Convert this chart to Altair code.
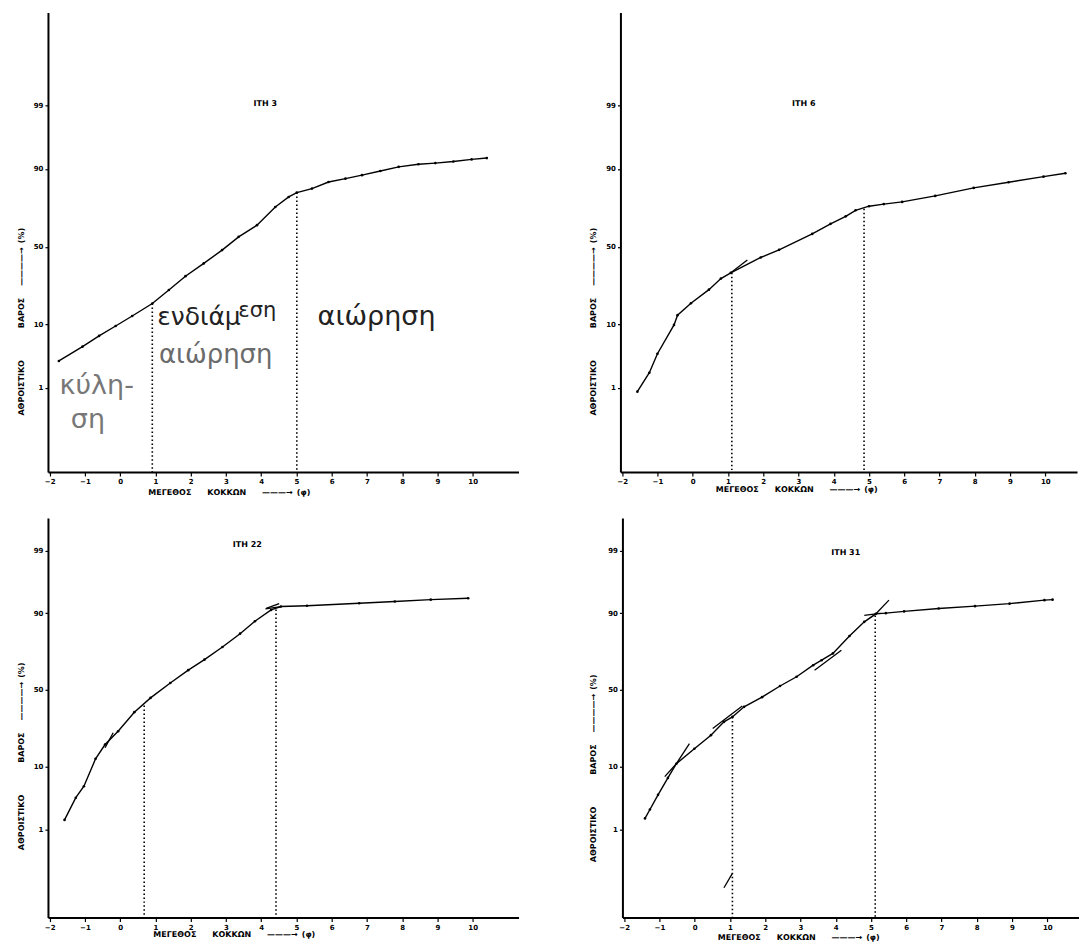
import altair as alt
import pandas as pd
from statistics import NormalDist

# ---------------- data ----------------
NAMES = ["ΙΤΗ 3", "ΙΤΗ 6", "ΙΤΗ 22", "ΙΤΗ 31"]

# cumulative curves: grain size (phi) vs cumulative weight (%)
phi_3 = [-1.74, -1.07, -0.60, -0.13, 0.34, 0.91, 1.38, 1.85, 2.37, 2.89, 3.36, 3.88, 4.40,
         4.78, 5.01, 5.44, 5.91, 6.39, 6.86, 7.38, 7.90, 8.46, 8.94, 9.45, 9.97, 10.40]
pct_3 = [3.0, 5.0, 7.1, 9.6, 12.7, 17.5, 23.8, 31.4, 39.2, 47.8, 56.5, 63.9, 74.4,
         79.4, 81.4, 83.1, 85.7, 86.9, 88.1, 89.4, 90.6, 91.3, 91.6, 92.0, 92.5, 92.8]

phi_6 = [-1.57, -1.23, -1.00, -0.53, -0.43, -0.05, 0.46, 0.80, 1.08, 1.93, 2.45, 3.39,
         3.91, 4.34, 4.62, 5.00, 5.42, 5.94, 6.88, 7.97, 8.96, 9.95, 10.57]
pct_6 = [0.85, 1.9, 3.9, 9.9, 13.0, 17.6, 24.0, 30.0, 33.4, 43.0, 48.0, 58.4,
         64.7, 69.2, 72.6, 74.8, 75.9, 77.0, 79.9, 83.4, 85.6, 87.6, 88.7]

phi_22 = [-1.58, -1.26, -1.03, -0.70, -0.43, -0.06, 0.40, 0.86, 1.42, 1.93, 2.39, 2.90,
          3.40, 3.82, 4.28, 4.56, 5.30, 6.78, 7.79, 8.81, 9.87]
pct_22 = [1.5, 3.6, 5.4, 12.5, 18.1, 24.5, 35.5, 44.7, 54.6, 62.9, 69.3, 76.3,
          82.6, 87.4, 90.9, 91.8, 92.0, 92.6, 93.0, 93.4, 93.7]

phi_31 = [-1.41, -1.27, -1.04, -0.76, -0.52, -0.01, 0.46, 0.83, 1.07, 1.40, 1.91, 2.42,
          2.89, 3.36, 3.60, 3.92, 4.39, 4.81, 5.14, 5.42, 5.94, 6.92, 7.95, 8.93, 9.92, 10.15]
pct_31 = [1.6, 2.3, 4.0, 7.1, 10.9, 16.3, 22.5, 29.7, 32.6, 38.9, 45.2, 52.6,
          58.7, 66.0, 69.0, 72.9, 81.6, 87.2, 89.8, 90.0, 90.5, 91.3, 91.9, 92.5, 93.3, 93.4]

# truncation points (dotted verticals)
brk_phi_3 = [0.91, 5.01]
brk_pct_3 = [17.5, 81.4]
brk_phi_6 = [1.11, 4.86]
brk_pct_6 = [33.4, 73.5]
brk_phi_22 = [0.68, 4.42]
brk_pct_22 = [39.7, 91.0]
brk_phi_31 = [1.07, 5.12]
brk_pct_31 = [32.6, 89.3]

# extra fitted-line segments (tangent extensions)
tan_seg_3 = []
tan_phi_3 = []
tan_pct_3 = []
tan_seg_6 = [0, 0]
tan_phi_6 = [1.08, 1.55]
tan_pct_6 = [33.4, 41.4]
tan_seg_22 = [0, 0, 1, 1, 2, 2]
tan_phi_22 = [-0.43, -0.20, 4.14, 4.51, 4.12, 4.56]
tan_pct_22 = [16.7, 23.7, 91.3, 92.5, 91.2, 91.8]
tan_seg_31 = [0, 0, 1, 1, 2, 2, 3, 3, 4, 4, 5, 5, 6, 6]
tan_phi_31 = [-0.52, -0.15, -0.85, -0.52, 0.51, 1.35, 3.40, 4.16, 5.14, 5.51, 4.81, 5.14, 0.83, 1.07]
tan_pct_31 = [10.9, 18.5, 7.4, 10.9, 26.0, 39.4, 62.9, 74.6, 89.8, 93.3, 89.3, 89.8, 0.048, 0.11]

Y_TICK_PCT = [1, 10, 50, 90, 99]
X_TICKS = list(range(-2, 11))

ANN_TEXT = ["ενδιάμ", "εση", "αιώρηση", "αιώρηση", "κύλη-", "ση"]

# ---------------- chart ----------------
FONT = "DejaVu Sans"
nd = NormalDist()
Z_TICKS = [nd.inv_cdf(v / 100) for v in Y_TICK_PCT]
Z_CALC = "quantileNormal(datum.pct / 100)"
Y_TITLE = "ΑΘΡΟΙΣΤΙΚΟ\u2003\u2003\u2003\u2003ΒΑΡΟΣ\u2003\u2002————→\u2002(%)"
X_TITLE = "ΜΕΓΕΘΟΣ\u2003\u2003ΚΟΚΚΩΝ\u2003\u2003———→\u2002(φ)"

TOP_Z = [-3.71, 3.86]
BOT_Z = [-3.80, 2.87]
TOP_H = 460
BOT_H = 400


def z_of(p):
    return nd.inv_cdf(p / 100)


def x_axis(xtx, xty):
    return alt.Axis(values=X_TICKS, title=X_TITLE, titleX=xtx, titleY=xty,
                    titleAlign="left", titleBaseline="middle", labelFlush=False,
                    labelOverlap=False)


def y_axis(ytx, yty):
    return alt.Axis(values=Z_TICKS,
                    labelExpr="format(cumulativeNormal(datum.value) * 100, 'd')",
                    title=Y_TITLE, titleX=ytx, titleY=yty, titleAngle=270,
                    titleAlign="left", titleBaseline="middle", labelOverlap=False)


def panel(name, phi, pct, bphi, bpct, tseg, tphi, tpct, xdom, w, zdom, h,
          tdx, ty, ytx, yty, xtx, xty, annotations=None):
    xs = alt.Scale(domain=xdom, nice=False, zero=False)
    ys = alt.Scale(domain=zdom, nice=False, zero=False)
    xa = x_axis(xtx, xty)
    ya = y_axis(ytx, yty)
    x_enc = alt.X("phi:Q", scale=xs, axis=xa)
    y_enc = alt.Y("z:Q", scale=ys, axis=ya)

    curve = alt.Chart(pd.DataFrame({"phi": phi, "pct": pct})).transform_calculate(z=Z_CALC)
    line = curve.mark_line(color="black", strokeWidth=1.4).encode(x=x_enc, y=y_enc)
    pts = curve.mark_point(filled=True, color="black", size=7, opacity=1).encode(
        x=x_enc, y=y_enc)
    rules = alt.Chart(pd.DataFrame({"phi": bphi, "pct": bpct})).transform_calculate(
        z=Z_CALC).mark_rule(color="black", strokeWidth=1.6, strokeDash=[1.5, 2.5]).encode(
        x=x_enc, y=y_enc, y2=alt.datum(zdom[0]))
    layers = [line, rules, pts]
    if tseg:
        tans = alt.Chart(pd.DataFrame({"seg": tseg, "phi": tphi, "pct": tpct})).transform_calculate(
            z=Z_CALC).mark_line(color="black", strokeWidth=1.3).encode(
            x=x_enc, y=y_enc, detail="seg:N")
        layers.append(tans)
    if annotations:
        for text, aphi, ap, size, color in annotations:
            layers.append(
                alt.Chart(pd.DataFrame({"t": [text]})).mark_text(
                    align="left", baseline="alphabetic", font=FONT, fontSize=size, color=color
                ).encode(x=alt.X(datum=aphi, scale=xs, axis=xa),
                         y=alt.Y(datum=z_of(ap), scale=ys, axis=ya),
                         text="t:N")
            )
    return alt.layer(*layers).properties(
        width=w, height=h,
        title=alt.TitleParams(text=name, anchor="middle", dx=tdx, offset=-ty,
                              baseline="middle", fontSize=8, fontWeight="bold",
                              font=FONT, color="black"),
    )


annots = [
    (ANN_TEXT[0], 1.05, 9.9, 25, "#222222"),
    (ANN_TEXT[1], 3.35, 12.2, 21, "#222222"),
    (ANN_TEXT[2], 5.6, 9.9, 27, "#222222"),
    (ANN_TEXT[3], 1.1, 2.8, 26, "#6b6b6b"),
    (ANN_TEXT[4], -1.72, 0.75, 27, "#777777"),
    (ANN_TEXT[5], -1.40, 0.145, 27, "#777777"),
]

XDOM_L = [-2.05, 11.3]
XDOM_R = [-2.05, 10.9]
WL = 471
WR = 457

p3 = panel(NAMES[0], phi_3, pct_3, brk_phi_3, brk_pct_3, tan_seg_3, tan_phi_3, tan_pct_3,
           XDOM_L, WL, TOP_Z, TOP_H, -18, 100, -26, 403, 100, 21, annotations=annots)
p6 = panel(NAMES[1], phi_6, pct_6, brk_phi_6, brk_pct_6, tan_seg_6, tan_phi_6, tan_pct_6,
           XDOM_R, WR, TOP_Z, TOP_H, -45, 100, -27, 403, 95, 18)
p22 = panel(NAMES[2], phi_22, pct_22, brk_phi_22, brk_pct_22, tan_seg_22, tan_phi_22, tan_pct_22,
            XDOM_L, WL, BOT_Z, BOT_H, -36, 35, -26, 332, 105, 17)
p31 = panel(NAMES[3], phi_31, pct_31, brk_phi_31, brk_pct_31, tan_seg_31, tan_phi_31, tan_pct_31,
            XDOM_R, WR, BOT_Z, BOT_H, -5, 43, -29, 344, 95, 20)

chart = alt.vconcat(
    alt.hconcat(p3, p6, spacing=70),
    alt.hconcat(p22, p31, spacing=70),
    spacing=21,
).properties(
    padding={"left": 9, "top": 4, "right": 0, "bottom": 0}
).configure_view(stroke=None).configure_axis(
    grid=False, domainColor="black", domainWidth=2, tickColor="black", tickSize=3,
    tickWidth=1.2, labelFont=FONT, labelFontSize=7, labelFontWeight="bold",
    labelColor="black", labelPadding=2, titleFont=FONT, titleFontSize=8,
    titleFontWeight="bold", titleColor="black", labelOverlap=False,
).configure_axisX(tickSize=4)

chart.save("out.html", embed_options={"renderer": "svg", "actions": False})
